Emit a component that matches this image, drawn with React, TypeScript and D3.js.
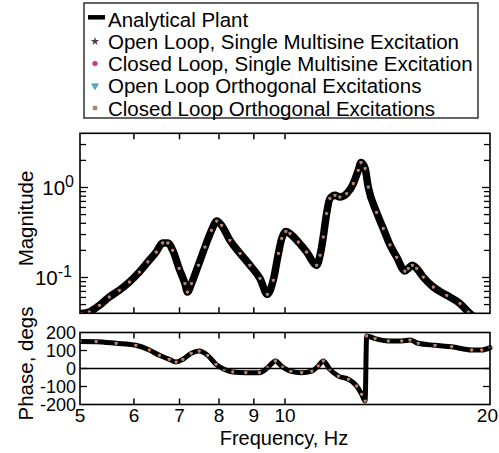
import React, { useEffect } from "react";
import * as d3 from "d3";

// ---------- data ----------
const freqTicks = [5, 6, 7, 8, 9, 10, 20];
const phaseTicks = [-200, -100, 0, 100, 200];
const legendLabels = [
  "Analytical Plant",
  "Open Loop, Single Multisine Excitation",
  "Closed Loop, Single Multisine Excitation",
  "Open Loop Orthogonal Excitations",
  "Closed Loop Orthogonal Excitations",
];

const magFreq = [
  5.02, 5.16, 5.34, 5.52, 5.71, 5.91, 6.11, 6.29, 6.47, 6.61, 6.73, 6.84, 6.99,
  7.13, 7.19, 7.29, 7.46, 7.63, 7.8, 7.94, 8.07, 8.3, 8.59, 8.88, 9.19, 9.42,
  9.61, 9.78, 9.89, 10.03, 10.17, 10.46, 10.76, 11.13, 11.26, 11.38, 11.51,
  11.64, 11.84, 12.04, 12.32, 12.6, 12.81, 12.93, 13.11, 13.25, 13.63, 13.94,
  14.26, 14.59, 15.0, 15.17, 15.38, 15.61, 15.96, 16.51, 17.28, 18.07, 18.59,
  18.82,
];
const magValues = [
  0.0397, 0.0414, 0.0491, 0.0607, 0.0721, 0.0891, 0.115, 0.149, 0.192, 0.242,
  0.242, 0.201, 0.126, 0.0855, 0.069, 0.0855, 0.137, 0.218, 0.334, 0.424, 0.38,
  0.259, 0.185, 0.137, 0.0972, 0.0651, 0.0931, 0.185, 0.271, 0.325, 0.307,
  0.248, 0.192, 0.137, 0.177, 0.282, 0.513, 0.753, 0.819, 0.784, 0.855, 1.105,
  1.552, 1.892, 1.622, 1.013, 0.53, 0.35, 0.23, 0.168, 0.118, 0.126, 0.137,
  0.126, 0.101, 0.0784, 0.0634, 0.0513, 0.0414, 0.038,
];

const phaseFreq = [
  5.0, 5.28, 5.65, 6.04, 6.32, 6.54, 6.76, 6.92, 7.08, 7.28, 7.48, 7.7, 7.92,
  8.14, 8.38, 8.76, 9.17, 9.43, 9.68, 9.92, 10.2, 10.58, 10.95, 11.19, 11.38,
  11.64, 11.98, 12.39, 12.74, 12.96, 13.11, 13.18, 13.56, 14.18, 14.84, 15.26,
  15.69, 16.61, 17.57, 18.8, 19.45, 20.0,
];
const phaseValues = [
  150, 149, 140, 129, 103, 73, 51, 36, 51, 84, 97, 73, 23, -4, -19, -23, -23,
  4, 42, 8, -16, -23, -14, 14, 42, -5, -42, -60, -97, -143, -181, 181, 166,
  153, 153, 158, 140, 129, 121, 103, 103, 116,
];

// ---------- layout ----------
const W = 499;
const H = 453;
const L = 80;
const R = 490;
const MAG_T = 133.3;
const MAG_B = 313.3;
const PH_T = 332.5;
const PH_B = 404.5;
const FONT = "'Liberation Sans', Arial, Helvetica, sans-serif";

export default function App() {
  useEffect(() => {
    document.body.style.margin = "0";
  }, []);

  const x = d3.scaleLog().domain([5, 20]).range([L, R]);
  const yMag = d3.scaleLog().domain([0.04, 4]).range([MAG_B, MAG_T]);
  const yPh = d3.scaleLinear().domain([-200, 200]).range([PH_B, PH_T]);

  const magPts: [number, number][] = magFreq.map((f, i) => [f, magValues[i]]);
  const phPts: [number, number][] = phaseFreq.map((f, i) => [f, phaseValues[i]]);

  const magLine = d3
    .line<[number, number]>()
    .x((d) => x(d[0]))
    .y((d) => yMag(d[1]))
    .curve(d3.curveMonotoneX);
  const phLine = d3
    .line<[number, number]>()
    .x((d) => x(d[0]))
    .y((d) => yPh(d[1]))
    .curve(d3.curveMonotoneX);

  const interiorX = freqTicks.filter((f) => f > 5 && f < 20);

  const magTickVals: { v: number; major: boolean }[] = [];
  [0.01, 0.1, 1].forEach((k) => {
    for (let m = 1; m <= 9; m++) {
      const v = m * k;
      if (v > 0.04 && v < 4) magTickVals.push({ v, major: m === 1 });
    }
  });

  const star = d3.symbol().type(d3.symbolStar).size(8)();
  const circ = d3.symbol().type(d3.symbolCircle).size(6)();
  const tri = d3.symbol().type(d3.symbolTriangle).size(6)();
  const sq = d3.symbol().type(d3.symbolSquare).size(6)();

  const markerSet = (pts: [number, number][], yf: (v: number) => number) =>
    pts.map((d, i) => {
      const cx = x(d[0]);
      const cy = yf(d[1]);
      return (
        <g key={i} transform={`translate(${cx},${cy})`}>
          <path d={star!} fill="#222" />
          <path d={circ!} fill="#c8357f" />
          <path d={tri!} fill="#3fa8c0" transform="rotate(180)" />
          <path d={sq!} fill="#d4804c" />
        </g>
      );
    });

  const legendBase = (i: number) => 26.7 + 22.2 * i;

  return (
    <svg
      width={W}
      height={H}
      style={{ position: "absolute", left: 0, top: 0, background: "#fff" }}
      fontFamily={FONT}
    >
      <defs>
        <clipPath id="clipMag">
          <rect x={L} y={MAG_T} width={R - L} height={MAG_B - MAG_T} />
        </clipPath>
        <clipPath id="clipPh">
          <rect x={L} y={PH_T - 3} width={R - L + 3} height={PH_B - PH_T + 6} />
        </clipPath>
      </defs>

      {/* Legend */}
      <rect x={84} y={3} width={394} height={115} fill="#fff" stroke="#333" strokeWidth={1.5} />
      {legendLabels.map((t, i) => (
        <text key={t} x={108} y={legendBase(i)} fontSize={20.5} fill="#000">
          {t}
        </text>
      ))}
      <line x1={88} x2={105} y1={legendBase(0) - 9.4} y2={legendBase(0) - 9.4} stroke="#000" strokeWidth={4.5} />
      <path d={d3.symbol().type(d3.symbolStar).size(22)()!} fill="#444" transform={`translate(95,${legendBase(1) - 7.5})`} />
      <path d={d3.symbol().type(d3.symbolCircle).size(20)()!} fill="#d0358e" stroke="#888" strokeWidth={0.5} transform={`translate(95,${legendBase(2) - 7.5})`} />
      <path d={d3.symbol().type(d3.symbolTriangle).size(20)()!} fill="#3fb4cf" stroke="#666" strokeWidth={0.5} transform={`translate(95,${legendBase(3) - 7.5}) rotate(180)`} />
      <path d={d3.symbol().type(d3.symbolSquare).size(16)()!} fill="#b08070" stroke="#999" strokeWidth={0.5} transform={`translate(95,${legendBase(4) - 7.5})`} />

      {/* Magnitude curve */}
      <g clipPath="url(#clipMag)">
        <path d={magLine(magPts)!} fill="none" stroke="#000" strokeWidth={7.5} strokeLinejoin="round" strokeLinecap="round" />
        {markerSet(magPts, (v) => yMag(v))}
      </g>

      {/* Magnitude frame & ticks */}
      <rect x={L} y={MAG_T} width={R - L} height={MAG_B - MAG_T} fill="none" stroke="#000" strokeWidth={1.6} />
      {interiorX.map((f) => (
        <g key={"mx" + f}>
          <line x1={x(f)} x2={x(f)} y1={MAG_B} y2={MAG_B - 6} stroke="#000" strokeWidth={1.5} />
          <line x1={x(f)} x2={x(f)} y1={MAG_T} y2={MAG_T + 6} stroke="#000" strokeWidth={1.5} />
        </g>
      ))}
      {magTickVals.map(({ v, major }) => {
        const len = major ? 8 : 6;
        return (
          <g key={"my" + v}>
            <line x1={L} x2={L + len} y1={yMag(v)} y2={yMag(v)} stroke="#000" strokeWidth={1.3} />
            <line x1={R} x2={R - len} y1={yMag(v)} y2={yMag(v)} stroke="#000" strokeWidth={1.3} />
          </g>
        );
      })}
      <text x={74} y={yMag(1) + 8} fontSize={20.5} textAnchor="end">
        10<tspan fontSize={16} dy={-8}>0</tspan>
      </text>
      <text x={72} y={yMag(0.1) + 8} fontSize={20.5} textAnchor="end">
        10<tspan fontSize={16} dy={-8}>-1</tspan>
      </text>
      <text transform={`translate(33,218.5) rotate(-90)`} fontSize={20.5} textAnchor="middle">
        Magnitude
      </text>

      {/* Phase curve */}
      <g clipPath="url(#clipPh)">
        <path d={phLine(phPts)!} fill="none" stroke="#000" strokeWidth={5} strokeLinejoin="round" strokeLinecap="round" />
        {markerSet(phPts, (v) => yPh(v))}
      </g>

      {/* Phase frame & ticks */}
      <line x1={L} x2={R} y1={yPh(0)} y2={yPh(0)} stroke="#000" strokeWidth={1.5} />
      <rect x={L} y={PH_T} width={R - L} height={PH_B - PH_T} fill="none" stroke="#000" strokeWidth={1.6} />
      {interiorX.map((f) => (
        <g key={"px" + f}>
          <line x1={x(f)} x2={x(f)} y1={PH_B} y2={PH_B - 6} stroke="#000" strokeWidth={1.5} />
          <line x1={x(f)} x2={x(f)} y1={PH_T} y2={PH_T + 6} stroke="#000" strokeWidth={1.5} />
        </g>
      ))}
      {phaseTicks
        .filter((v) => v > -200 && v < 200)
        .map((v) => (
          <g key={"py" + v}>
            <line x1={L} x2={L + 7} y1={yPh(v)} y2={yPh(v)} stroke="#000" strokeWidth={1.3} />
            <line x1={R} x2={R - 7} y1={yPh(v)} y2={yPh(v)} stroke="#000" strokeWidth={1.3} />
          </g>
        ))}
      {phaseTicks.map((v) => (
        <text key={"pl" + v} x={76} y={yPh(v) + 6.3} fontSize={18} textAnchor="end">
          {v}
        </text>
      ))}
      <text transform={`translate(33,363.5) rotate(-90)`} fontSize={20.5} textAnchor="middle">
        Phase, degs
      </text>

      {/* X tick labels */}
      {freqTicks.map((f) => (
        <text
          key={"xl" + f}
          x={f === 20 ? W - 1 : x(f)}
          y={422}
          fontSize={19}
          textAnchor={f === 20 ? "end" : "middle"}
        >
          {f}
        </text>
      ))}
      <text x={284} y={445} fontSize={20} textAnchor="middle">
        Frequency, Hz
      </text>
    </svg>
  );
}
